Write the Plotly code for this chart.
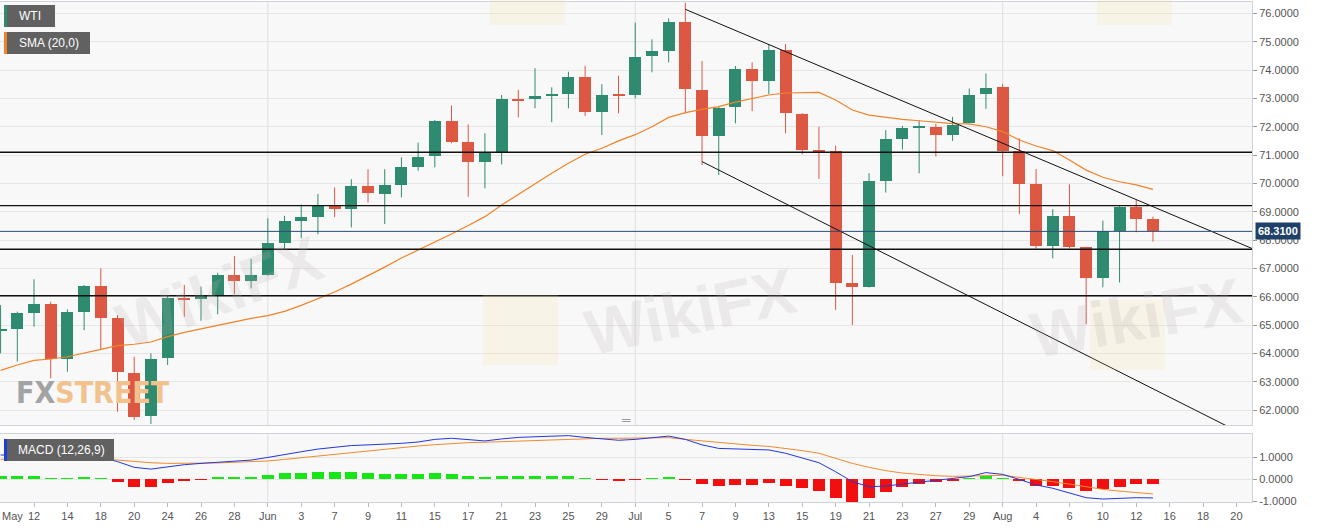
import plotly.graph_objects as go
import pandas as pd

# ---------------- data ----------------
dates = pd.bdate_range("2021-05-10", "2021-08-23")   # trading-day axis (weekdays)

opens = [64.80, 64.87, 65.44, 65.74, 63.80, 65.48, 66.38, 65.24, 63.33, 61.80,
         63.83, 65.97, 65.93, 66.04, 66.77, 66.56, 66.77, 67.91, 68.69, 68.83,
         69.24, 69.10, 69.91, 69.63, 69.93, 70.59, 70.97, 72.20, 71.45, 70.76,
         71.06, 72.98, 72.97, 73.09, 73.15, 73.77, 72.51, 73.14, 73.12, 74.50,
         74.68, 75.69, 73.31, 71.66, 72.68, 74.04, 73.63, 74.71, 72.46, 71.18,
         71.15, 66.48, 66.36, 70.09, 71.56, 71.97, 72.00, 71.71, 72.14, 73.14,
         73.39, 71.14, 69.97, 67.80, 68.85, 67.75, 66.65, 68.31, 69.18, 68.74]
highs = [65.71, 65.48, 66.62, 65.83, 65.56, 66.42, 67.01, 65.36, 63.89, 64.01,
         66.04, 66.42, 66.36, 66.85, 67.44, 67.34, 68.77, 68.86, 69.26, 69.63,
         69.86, 70.15, 70.50, 70.50, 70.92, 71.44, 72.24, 72.75, 72.08, 71.77,
         73.12, 73.30, 74.06, 73.39, 73.94, 74.15, 73.50, 73.80, 75.67, 75.08,
         75.82, 76.37, 74.32, 72.70, 74.14, 74.27, 74.91, 74.92, 72.48, 72.00,
         71.33, 67.48, 70.36, 71.88, 72.03, 72.22, 72.10, 72.35, 73.35, 73.88,
         73.51, 71.59, 70.51, 69.09, 69.97, 67.77, 68.69, 69.20, 69.42, 68.83]
lows = [64.01, 63.72, 64.95, 63.13, 63.36, 64.83, 64.13, 61.95, 61.66, 61.52,
        63.60, 65.30, 65.16, 65.39, 66.09, 66.30, 66.75, 67.68, 68.07, 68.21,
        68.81, 68.45, 69.33, 68.57, 69.51, 70.45, 70.57, 71.42, 69.53, 69.83,
        70.67, 72.33, 72.65, 72.16, 72.65, 72.38, 71.71, 72.47, 73.00, 73.92,
        74.27, 72.47, 70.65, 70.30, 72.12, 72.55, 73.15, 71.77, 71.03, 70.16,
        65.54, 65.01, 66.33, 69.68, 71.20, 70.36, 70.95, 71.50, 72.12, 72.63,
        70.26, 68.92, 67.71, 67.36, 67.71, 65.03, 66.34, 66.51, 68.28, 67.95]
closes = [64.86, 65.43, 65.74, 63.80, 65.48, 66.38, 65.27, 63.34, 61.78, 63.80,
          65.97, 65.92, 66.04, 66.77, 66.56, 66.77, 67.89, 68.68, 68.82, 69.24,
          69.10, 69.91, 69.65, 69.93, 70.57, 70.94, 72.20, 71.45, 70.76, 71.06,
          72.97, 72.93, 73.09, 73.14, 73.77, 72.51, 73.13, 73.09, 74.47, 74.67,
          75.69, 73.32, 71.66, 72.67, 74.04, 73.63, 74.71, 72.47, 71.18, 71.14,
          66.48, 66.34, 70.09, 71.56, 71.97, 72.03, 71.71, 72.07, 73.12, 73.38,
          71.16, 69.98, 67.80, 68.85, 67.75, 66.65, 68.31, 69.18, 68.74, 68.31]
sma20 = [63.41, 63.60, 63.76, 63.81, 63.89, 64.01, 64.15, 64.28, 64.33, 64.41,
         64.60, 64.75, 64.87, 64.99, 65.13, 65.24, 65.34, 65.49, 65.70, 65.94,
         66.17, 66.45, 66.74, 67.05, 67.37, 67.65, 67.94, 68.22, 68.52, 68.83,
         69.24, 69.62, 69.97, 70.36, 70.71, 71.03, 71.24, 71.50, 71.72, 72.00,
         72.33, 72.50, 72.61, 72.71, 72.87, 73.00, 73.12, 73.19, 73.21, 73.21,
         72.94, 72.59, 72.41, 72.33, 72.26, 72.21, 72.17, 72.11, 72.10, 72.00,
         71.83, 71.53, 71.32, 71.16, 70.83, 70.47, 70.22, 70.06, 69.95, 69.79]
macd_line = [1.09, 1.09, 1.09, 1.09, 1.08, 1.05, 0.98, 0.79, 0.53, 0.45,
             0.56, 0.65, 0.71, 0.77, 0.83, 0.86, 0.98, 1.12, 1.24, 1.36,
             1.44, 1.52, 1.55, 1.58, 1.62, 1.68, 1.80, 1.85, 1.79, 1.73,
             1.82, 1.89, 1.92, 1.94, 1.97, 1.89, 1.82, 1.76, 1.80, 1.89,
             1.95, 1.80, 1.55, 1.39, 1.36, 1.32, 1.32, 1.17, 0.94, 0.74,
             0.33, -0.12, -0.35, -0.32, -0.23, -0.15, -0.05, 0.02, 0.11, 0.29,
             0.21, -0.02, -0.27, -0.42, -0.62, -0.85, -0.91, -0.88, -0.85, -0.86]
signal_line = [0.89, 0.95, 1.02, 1.03, 1.03, 1.00, 0.92, 0.85, 0.79, 0.74,
               0.71, 0.71, 0.71, 0.73, 0.76, 0.79, 0.82, 0.89, 0.97, 1.05,
               1.12, 1.20, 1.27, 1.35, 1.42, 1.50, 1.56, 1.62, 1.65, 1.67,
               1.70, 1.73, 1.76, 1.79, 1.82, 1.85, 1.85, 1.85, 1.86, 1.88,
               1.88, 1.80, 1.73, 1.65, 1.59, 1.53, 1.48, 1.39, 1.29, 1.17,
               0.94, 0.71, 0.53, 0.38, 0.27, 0.20, 0.15, 0.12, 0.12, 0.15,
               0.17, 0.08, -0.02, -0.12, -0.23, -0.35, -0.47, -0.55, -0.61, -0.68]
histogram = [0.14, 0.14, 0.14, 0.01, 0.02, 0.06, 0.01, -0.15, -0.35, -0.35,
             -0.20, -0.09, -0.02, 0.06, 0.09, 0.10, 0.20, 0.26, 0.29, 0.32,
             0.30, 0.32, 0.27, 0.24, 0.23, 0.23, 0.29, 0.24, 0.14, 0.08,
             0.15, 0.15, 0.14, 0.14, 0.12, 0.02, -0.02, -0.08, -0.02, 0.02,
             0.05, -0.03, -0.24, -0.30, -0.27, -0.27, -0.20, -0.30, -0.42, -0.53,
             -0.85, -1.03, -0.85, -0.61, -0.38, -0.24, -0.15, -0.08, 0.03, 0.14,
             0.03, -0.09, -0.30, -0.32, -0.42, -0.55, -0.47, -0.35, -0.24, -0.23]

level_lines = [71.10, 69.22, 67.68, 66.04]
last_price = 68.31
upper_trend_dates = ["2021-07-06", "2021-08-23"]
upper_trend_vals = [76.14, 67.69]
lower_trend_dates = ["2021-07-07", "2021-08-23"]
lower_trend_vals = [70.77, 60.98]

# ---------------- helpers ----------------
pos_of = {d.strftime("%Y-%m-%d"): i for i, d in enumerate(dates)}
n = len(closes)
xs = list(range(n))

GREEN = "#2f8b70"
RED = "#dc5843"

# tick labels every 2 trading days
tickvals, ticktext = [], []
for p in range(2, len(dates) - 1, 2):
    d = dates[p]
    tickvals.append(p)
    ticktext.append(d.strftime("%b") if d.month != dates[p - 2].month else str(d.day))
month_starts = [i for i in range(1, n) if dates[i].month != dates[i - 1].month]

W, H = 1323, 529
ML, MR, MT, MB = 0, 71, 2, 27
PW, PH = W - ML - MR, H - MT - MB


def px(x):
    return x / PW


def py(y):
    return (H - MB - y) / PH


fig = go.Figure()

# wicks
for col, cond in ((GREEN, True), (RED, False)):
    wx, wy = [], []
    for i in xs:
        if (closes[i] >= opens[i]) == cond:
            wx += [i, i, None]
            wy += [lows[i], highs[i], None]
    fig.add_trace(go.Scatter(x=wx, y=wy, mode="lines", line=dict(color=col, width=1),
                             hoverinfo="skip", showlegend=False, xaxis="x", yaxis="y"))

# bodies
fig.add_trace(go.Bar(
    x=xs,
    y=[max(abs(c - o), 0.04) for o, c in zip(opens, closes)],
    base=[min(o, c) for o, c in zip(opens, closes)],
    marker=dict(color=[GREEN if c >= o else RED for o, c in zip(opens, closes)], line=dict(width=0)),
    width=0.72, showlegend=False, xaxis="x", yaxis="y"))

# SMA
fig.add_trace(go.Scatter(x=xs, y=sma20, mode="lines", line=dict(color="#f0832a", width=1.2),
                         showlegend=False, xaxis="x", yaxis="y"))

# trend lines
for dts, vals in ((upper_trend_dates, upper_trend_vals), (lower_trend_dates, lower_trend_vals)):
    fig.add_trace(go.Scatter(x=[pos_of[d] for d in dts], y=vals, mode="lines",
                             line=dict(color="#111111", width=1), showlegend=False,
                             xaxis="x", yaxis="y"))

# MACD histogram + lines
fig.add_trace(go.Bar(x=xs, y=histogram,
                     marker=dict(color=["#16e616" if v >= 0 else "#f20f0f" for v in histogram],
                                 line=dict(width=0)),
                     width=0.72, showlegend=False, xaxis="x2", yaxis="y2"))
fig.add_trace(go.Scatter(x=xs, y=signal_line, mode="lines", line=dict(color="#f08a30", width=1),
                         showlegend=False, xaxis="x2", yaxis="y2"))
fig.add_trace(go.Scatter(x=xs, y=macd_line, mode="lines", line=dict(color="#2437d8", width=1),
                         showlegend=False, xaxis="x2", yaxis="y2"))

shapes = []
for m in month_starts:
    for ax in ("y", "y2"):
        shapes.append(dict(type="line", xref="x", yref=f"{ax} domain", x0=m, x1=m, y0=0, y1=1,
                           line=dict(color="#dcdfe4", width=1), layer="below"))
for lv in level_lines:
    shapes.append(dict(type="line", xref="x domain", yref="y", x0=0, x1=1, y0=lv, y1=lv,
                       line=dict(color="#111111", width=1.3)))
shapes.append(dict(type="line", xref="x domain", yref="y", x0=0, x1=1, y0=last_price, y1=last_price,
                   line=dict(color="#2b4e74", width=1)))

# watermark logos (faint)
for (lx, ly) in ((483, 295), (1090, 300), (490, -45), (1097, -45)):
    shapes.append(dict(type="rect", xref="paper", yref="paper", x0=px(lx), x1=px(lx + 75),
                       y0=py(ly + 70), y1=py(ly), fillcolor="rgba(245,215,140,0.16)",
                       line=dict(width=0), layer="above"))

# legend boxes
legend_items = [("WTI", 4, 55, 5, 27, GREEN, 17), ("SMA (20,0)", 4, 90, 32, 54, "#f0832a", 17),
                ("MACD (12,26,9)", 4, 114, 439, 461, "#1c3fd6", 16)]
annotations = []
for label, x0, x1, y0, y1, col, tx in legend_items:
    shapes.append(dict(type="rect", xref="paper", yref="paper", x0=px(x0), x1=px(x1),
                       y0=py(y1), y1=py(y0), fillcolor="#616161", line=dict(width=0)))
    shapes.append(dict(type="rect", xref="paper", yref="paper", x0=px(x0), x1=px(x0 + 3),
                       y0=py(y1), y1=py(y0), fillcolor=col, line=dict(width=0)))
    annotations.append(dict(xref="paper", yref="paper", x=px(tx), y=py((y0 + y1) / 2),
                            xanchor="left", yanchor="middle", showarrow=False, text=label,
                            font=dict(family="Liberation Sans, Arial", size=12, color="#ffffff")))

# watermarks
for (wx, wy, ang) in ((105, 292, -20), (690, 312, -12), (1250, 318, -10)):
    annotations.append(dict(xref="paper", yref="paper", x=px(wx), y=py(wy), showarrow=False,
                            text="<b>WikiFX</b>", textangle=ang,
                            font=dict(family="Liberation Sans, Arial", size=64,
                                      color="rgba(185,175,175,0.2)")))
annotations.append(dict(xref="paper", yref="paper", x=px(14), y=py(392), xanchor="left",
                        yanchor="middle", showarrow=False,
                        text="<b><span style='color:#a3a3a3'>FX</span><span style='color:#f2c28e'>STREET</span></b>",
                        font=dict(family="Liberation Sans Narrow, DejaVu Sans Condensed, Arial", size=30)))

# price tag
annotations.append(dict(xref="paper", yref="y", x=1, y=last_price, xanchor="left", yanchor="middle",
                        xshift=3, showarrow=False, text="<b>68.3100</b>", bgcolor="#1f4169",
                        borderpad=2, font=dict(family="Liberation Sans, Arial", size=11, color="#ffffff")))
# first month label
annotations.append(dict(xref="paper", yref="paper", x=0, y=py(516), xanchor="left", yanchor="middle",
                        showarrow=False, text="May",
                        font=dict(family="Liberation Sans, Arial", size=11, color="#555555")))
# pane divider handle
annotations.append(dict(xref="paper", yref="paper", x=px(626), y=py(430), showarrow=False,
                        text="═", font=dict(size=12, color="#8a8a8a")))

axis_font = dict(family="Liberation Sans, Arial", size=11, color="#555555")
line_col = "#cfd3da"
x_range = [-0.036, 74.93]

fig.update_layout(
    width=W, height=H, margin=dict(l=ML, r=MR, t=MT, b=MB),
    paper_bgcolor="#ffffff", plot_bgcolor="#f8f8f8", barmode="overlay", bargap=0,
    showlegend=False, shapes=shapes, annotations=annotations,
    xaxis=dict(domain=[0, 1], anchor="y", range=x_range, showticklabels=False, showgrid=False,
               zeroline=False, showline=True, mirror=True, linecolor=line_col, matches="x2"),
    yaxis=dict(domain=[py(425), 1], anchor="x", side="right", range=[61.483, 76.398], dtick=1,
               tickformat=".4f", showgrid=True, gridcolor="#e6e6e6", zeroline=False,
               showline=True, mirror=True, linecolor=line_col, ticks="outside", ticklen=4,
               tickcolor="#9a9a9a", tickfont=axis_font),
    xaxis2=dict(domain=[0, 1], anchor="y2", range=x_range, tickvals=tickvals, ticktext=ticktext,
                showgrid=False, zeroline=False, showline=True, mirror=True, linecolor=line_col,
                ticks="outside", ticklen=4, tickcolor="#bbbbbb", tickfont=axis_font),
    yaxis2=dict(domain=[0, py(434)], anchor="x2", side="right", range=[-1.045, 2.045],
                tickvals=[-1, 0, 1], ticktext=["-1.0000", "0.0000", "1.0000"], showgrid=True,
                gridcolor="#e6e6e6", zeroline=False, showline=True, mirror=True, linecolor=line_col,
                ticks="outside", ticklen=4, tickcolor="#9a9a9a", tickfont=axis_font),
)

fig.write_html("out.html", config={"displayModeBar": False},
               post_script="document.body.style.margin='0';document.body.style.overflow='hidden';")
